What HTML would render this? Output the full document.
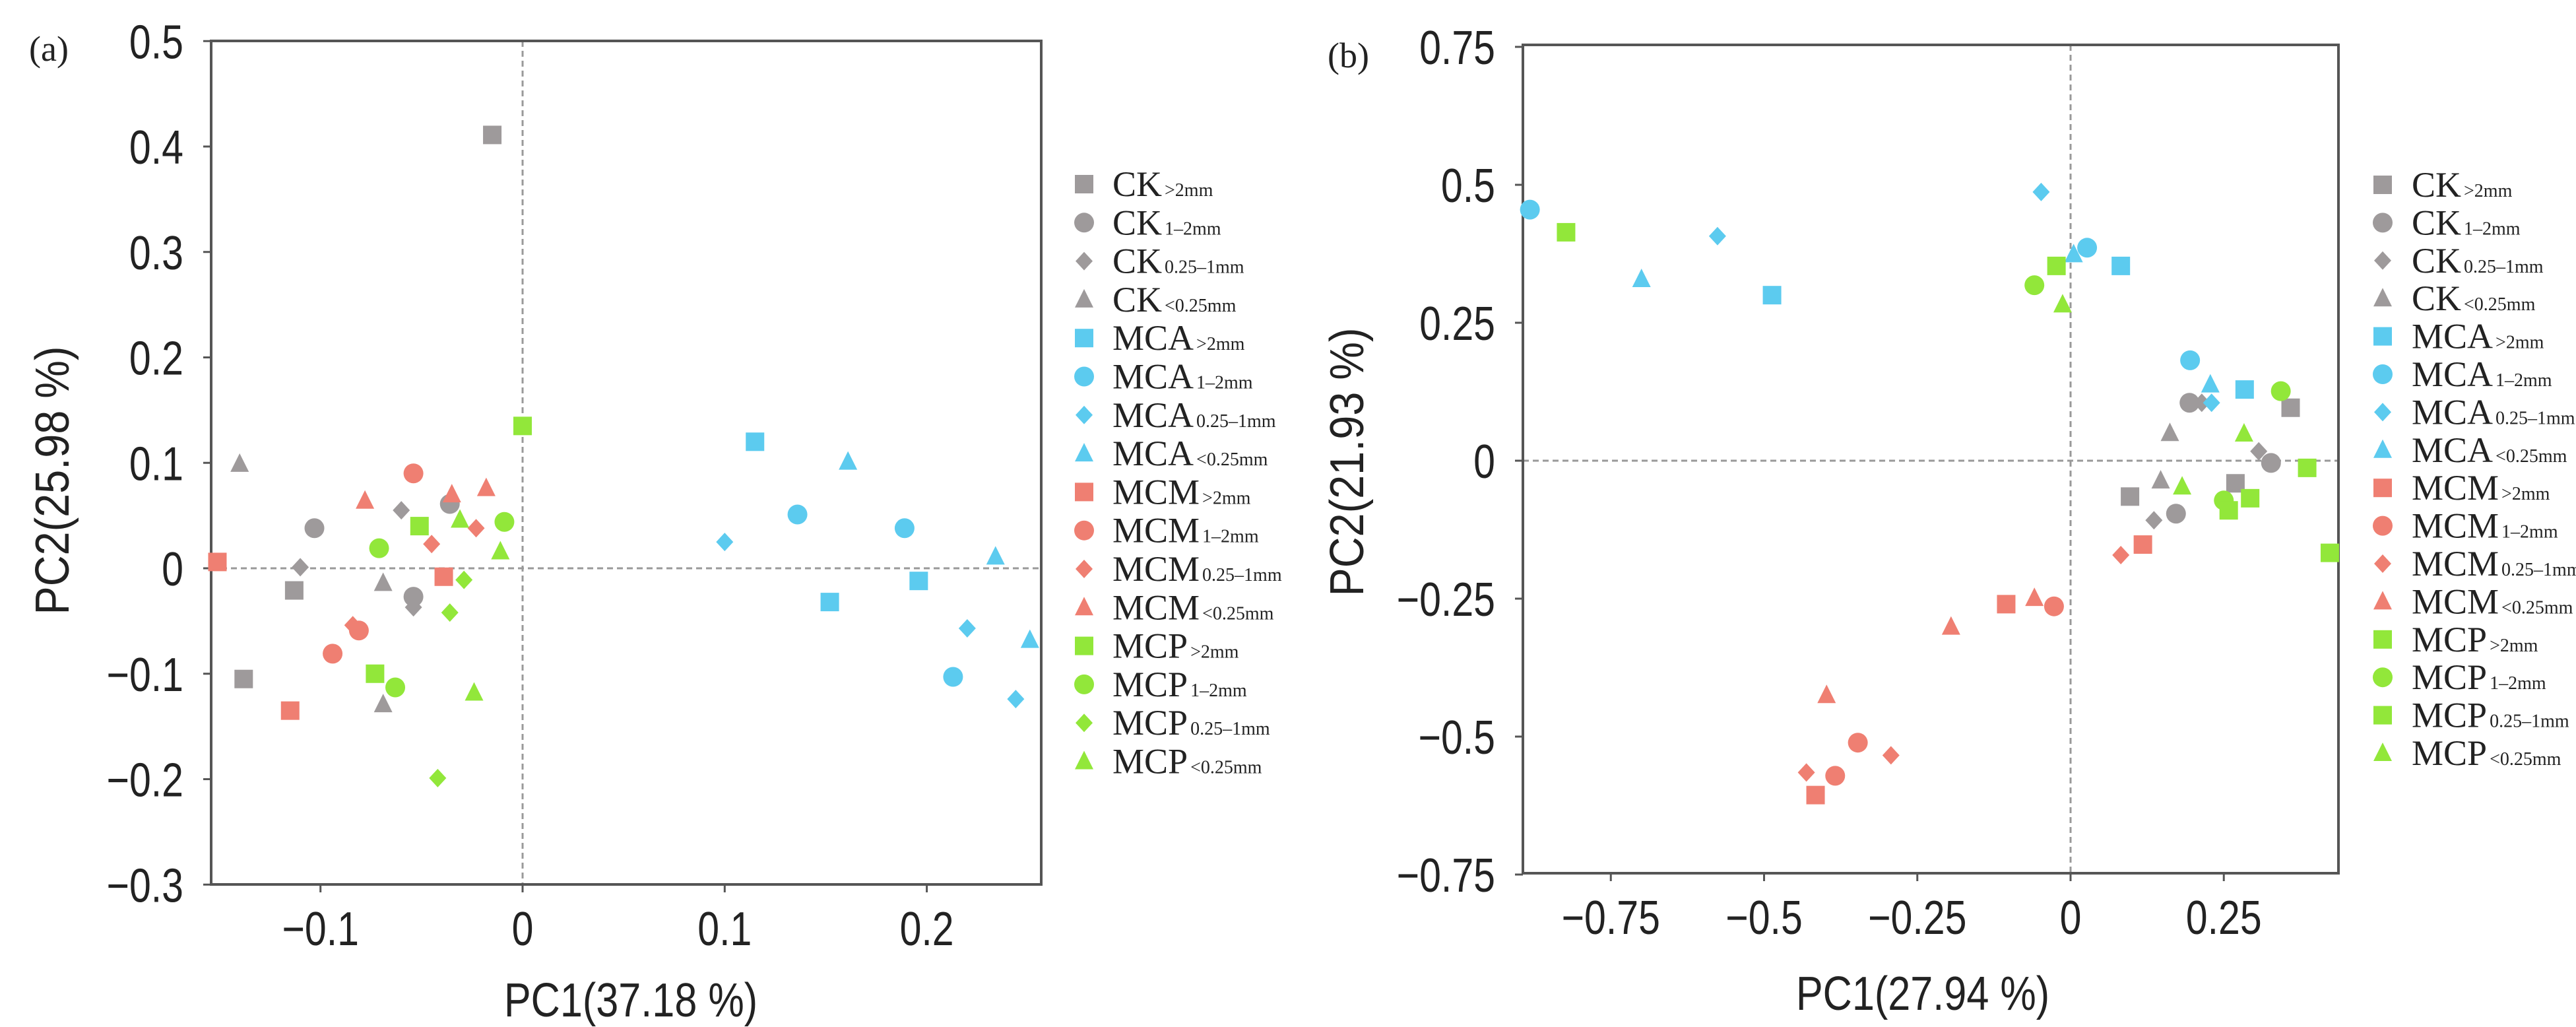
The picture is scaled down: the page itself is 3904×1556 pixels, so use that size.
<!DOCTYPE html>
<html><head><meta charset="utf-8"><style>
html,body{margin:0;padding:0;background:#fff;width:3904px;height:1556px;overflow:hidden}
svg{display:block}
.tick{font-family:"Liberation Sans",sans-serif;font-size:72px;fill:#222}
.ttl{font-family:"Liberation Sans",sans-serif;font-size:72px;fill:#222}
.leg{font-family:"Liberation Serif",serif;font-size:54px;fill:#222}
.sub{font-size:28px}
</style></head><body>
<svg id="chart" width="3904" height="1556" viewBox="0 0 3904 1556"></svg>
<script>
// ---------- data ----------
const groups = ["CK","MCA","MCM","MCP"];
const sizes = [">2mm","1-2mm","0.25-1mm","<0.25mm"];
const shapesA = ["square","circle","diamond","triangle"];
// Panel a: [x,y] per group/size
const aCK = [[[-0.015,0.411],[-0.113,-0.021],[-0.138,-0.105]],[[-0.103,0.038],[-0.054,-0.027],[-0.036,0.061]],[[-0.110,0.001],[-0.060,0.055],[-0.054,-0.037]],[[-0.140,0.099],[-0.069,-0.014],[-0.069,-0.129]]];
const aMCA = [[[0.115,0.120],[0.152,-0.032],[0.196,-0.012]],[[0.136,0.051],[0.189,0.038],[0.213,-0.103]],[[0.100,0.025],[0.220,-0.057],[0.244,-0.124]],[[0.161,0.101],[0.234,0.011],[0.251,-0.068]]];
const aMCM = [[[-0.151,0.006],[-0.039,-0.008],[-0.115,-0.135]],[[-0.054,0.090],[-0.081,-0.059],[-0.094,-0.081]],[[-0.045,0.023],[-0.023,0.038],[-0.084,-0.054]],[[-0.078,0.064],[-0.035,0.070],[-0.018,0.076]]];
const aMCP = [[[0,0.135],[-0.051,0.040],[-0.073,-0.100]],[[-0.071,0.019],[-0.009,0.044],[-0.063,-0.113]],[[-0.029,-0.011],[-0.036,-0.042],[-0.042,-0.199]],[[-0.031,0.046],[-0.011,0.016],[-0.024,-0.118]]];
// Panel b
const bCK = [[[0.097,-0.065],[0.269,-0.041],[0.359,0.096]],[[0.194,0.105],[0.172,-0.096],[0.327,-0.004]],[[0.214,0.105],[0.136,-0.108],[0.307,0.017]],[[0.162,0.050],[0.147,-0.036]]];
const bMCA = [[[-0.487,0.300],[0.082,0.353],[0.284,0.129]],[[-0.882,0.455],[0.027,0.386],[0.195,0.182]],[[-0.576,0.407],[-0.048,0.487],[0.230,0.105]],[[-0.700,0.329],[0.005,0.374],[0.228,0.138]]];
const bMCM = [[[-0.416,-0.606],[-0.105,-0.260],[0.118,-0.152]],[[-0.347,-0.511],[-0.384,-0.571],[-0.027,-0.264]],[[-0.431,-0.565],[-0.293,-0.534],[0.082,-0.171]],[[-0.398,-0.425],[-0.195,-0.301],[-0.059,-0.249]]];
const bMCP = [[[-0.823,0.414],[-0.023,0.353],[0.386,-0.013]],[[-0.059,0.318],[0.343,0.126],[0.250,-0.072]],[[0.258,-0.090],[0.293,-0.068],[0.423,-0.167]],[[-0.013,0.283],[0.283,0.049],[0.182,-0.047]]];
const aTicksX = [-0.1,0,0.1,0.2];
const aTickLabX = ["\u22120.1","0","0.1","0.2"];
const aTicksY = [0.5,0.4,0.3,0.2,0.1,0,-0.1,-0.2,-0.3];
const aTickLabY = ["0.5","0.4","0.3","0.2","0.1","0","\u22120.1","\u22120.2","\u22120.3"];
const bTicksX = [-0.75,-0.5,-0.25,0,0.25];
const bTickLabX = ["\u22120.75","\u22120.5","\u22120.25","0","0.25"];
const bTicksY = [0.75,0.5,0.25,0,-0.25,-0.5,-0.75];
const bTickLabY = ["0.75","0.5","0.25","0","\u22120.25","\u22120.5","\u22120.75"];

const colors = {CK:"#9e9a9b",MCA:"#5ccbef",MCM:"#ef7f72",MCP:"#92e73a"};
const NS="http://www.w3.org/2000/svg";
const svg=document.getElementById('chart');
function mk(tag,attrs,parent){const e=document.createElementNS(NS,tag);for(const k in attrs)e.setAttribute(k,attrs[k]);(parent||svg).appendChild(e);return e;}

function marker(shape,cx,cy,col,parent){
  const s=14;let e;
  if(shape==="square") e=mk('rect',{x:cx-s,y:cy-s,width:2*s,height:2*s,fill:col},parent);
  else if(shape==="circle") e=mk('circle',{cx:cx,cy:cy,r:s+1,fill:col},parent);
  else if(shape==="diamond") e=mk('polygon',{points:`${cx},${cy-14} ${cx+13},${cy} ${cx},${cy+14} ${cx-13},${cy}`,fill:col},parent);
  else e=mk('polygon',{points:`${cx},${cy-16} ${cx+14},${cy+12} ${cx-14},${cy+12}`,fill:col},parent);
  return e;
}
function shapeFor(cfg,gi,si){return (cfg.shapeFn?cfg.shapeFn(gi,si):shapesA[si]);}

function panel(cfg){
  const g=mk('g',{});
  
  
  const sx=v=>cfg.x0px+(v-cfg.x0v)*cfg.xs;
  const sy=v=>cfg.y0px-(v-cfg.y0v)*cfg.ys;
  const zx=mk('line',{x1:sx(0),x2:sx(0),y1:cfg.top,y2:cfg.bottom,stroke:"#999","stroke-width":3,"stroke-dasharray":"9,6"},g);
  
  
  const zy=mk('line',{x1:cfg.left,x2:cfg.right,y1:sy(0),y2:sy(0),stroke:"#999","stroke-width":3,"stroke-dasharray":"9,6"},g);
  
  
  const fr=mk('rect',{x:cfg.left,y:cfg.top,width:cfg.right-cfg.left,height:cfg.bottom-cfg.top,fill:"none",stroke:"#555","stroke-width":4},g);
  
  
  cfg.tx.forEach((v,i)=>{
    mk('line',{x1:sx(v),x2:sx(v),y1:cfg.bottom,y2:cfg.bottom+12,stroke:"#555","stroke-width":3},g);
    const t=mk('text',{x:0,y:0,"text-anchor":"middle",class:"tick",transform:`translate(${sx(v)},${cfg.bottom+92}) scale(0.82,1)`},g);
    t.textContent=cfg.txl[i];
    
    
  });
  cfg.ty.forEach((v,i)=>{
    mk('line',{x1:cfg.left-12,x2:cfg.left,y1:sy(v),y2:sy(v),stroke:"#555","stroke-width":3},g);
    const t=mk('text',{x:0,y:0,"text-anchor":"end",class:"tick",transform:`translate(${cfg.left-42},${sy(v)+26}) scale(0.82,1)`},g);
    t.textContent=cfg.tyl[i];
    
    
  });
  const xt=mk('text',{x:0,y:0,"text-anchor":"middle",class:"ttl",transform:`translate(${cfg.xtx},${cfg.xty}) scale(0.85,1)`},g);
  xt.textContent=cfg.xtitle;
  
  
  const yt=mk('text',{x:0,y:0,"text-anchor":"middle",class:"ttl",transform:`translate(${cfg.ytx},${cfg.yty}) rotate(-90) scale(0.9,1)`},g);
  yt.textContent=cfg.ytitle;
  
  
  const pl=mk('text',{x:cfg.plx,y:cfg.ply,class:"leg"},g);
  pl.textContent=cfg.label;
  
  
  cfg.series.forEach((ser,gi)=>{
    ser.forEach((pts,si)=>{
      pts.forEach(p=>{
        const m=marker(shapeFor(cfg,gi,si),sx(p[0]),sy(p[1]),colors[groups[gi]],g);
        
        
      });
    });
  });
  let row=0;
  groups.forEach((gr,gi)=>{
    sizes.forEach((sz,si)=>{
      const y=cfg.legY+row*cfg.legDy;
      const lm=marker(shapeFor(cfg,gi,si),cfg.legMx,y,colors[gr],g);
      
      
      const t=mk('text',{x:cfg.legTx,y:y+18,class:"leg"},g);
      
      
      const a=mk('tspan',{},t);a.textContent=gr;
      const b=mk('tspan',{class:"sub",dx:4},t);b.textContent=sz.replace('-','\u2013');
      row++;
    });
  });
}

panel({name:"panel-a",left:320,right:1578,top:62,bottom:1340,
  x0px:792,x0v:0,xs:3063,y0px:861,y0v:0,ys:1597.5,
  tx:aTicksX,txl:aTickLabX,ty:aTicksY,tyl:aTickLabY,
  xtitle:"PC1(37.18 %)",xtx:956,xty:1540,ytitle:"PC2(25.98 %)",ytx:104,yty:728,
  label:"(a)",plx:44,ply:92,
  series:[aCK,aMCA,aMCM,aMCP],
  legMx:1643,legTx:1686,legY:279,legDy:58.3});
panel({name:"panel-b",left:2308,right:3544,top:68,bottom:1323,
  x0px:3138,x0v:0,xs:929,y0px:698,y0v:0,ys:836,
  tx:bTicksX,txl:bTickLabX,ty:bTicksY,tyl:bTickLabY,
  xtitle:"PC1(27.94 %)",xtx:2914,xty:1530,ytitle:"PC2(21.93 %)",ytx:2066,yty:700,
  label:"(b)",plx:2012,ply:102,
  series:[bCK,bMCA,bMCM,bMCP],
  shapeFn:(gi,si)=>(gi===3&&si===2)?"square":shapesA[si],
  legMx:3611,legTx:3655,legY:280,legDy:57.4});
</script>
</body></html>
